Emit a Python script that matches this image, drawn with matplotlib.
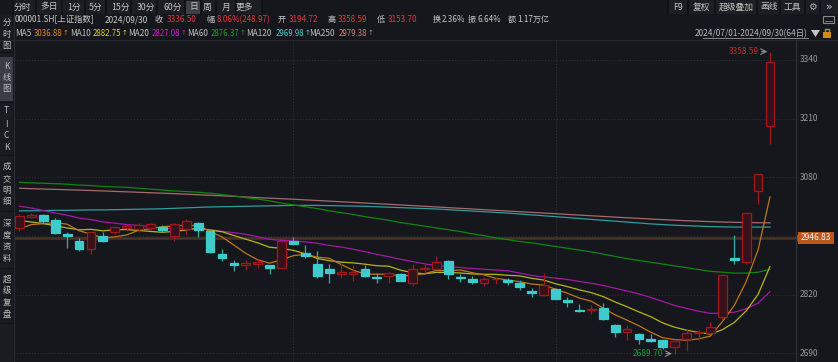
import matplotlib
matplotlib.use('Agg')
import matplotlib.pyplot as plt
from matplotlib.patches import Rectangle, Polygon
import matplotlib.transforms as mtransforms
import pandas as pd

plt.rcParams['font.family'] = ['Noto Sans CJK SC', 'DejaVu Sans']

# ---------------- data ----------------
dates = ['07-01','07-02','07-03','07-04','07-05','07-08','07-09','07-10','07-11','07-12',
         '07-15','07-16','07-17','07-18','07-19','07-22','07-23','07-24','07-25','07-26',
         '07-29','07-30','07-31','08-01','08-02','08-05','08-06','08-07','08-08','08-09',
         '08-12','08-13','08-14','08-15','08-16','08-19','08-20','08-21','08-22','08-23',
         '08-26','08-27','08-28','08-29','08-30','09-02','09-03','09-04','09-05','09-06',
         '09-09','09-10','09-11','09-12','09-13','09-18','09-19','09-20','09-23','09-24',
         '09-25','09-26','09-27','09-30']
opens = [2967.0,2993.0,2996.0,2985.0,2954.0,2940.0,2921.0,2950.0,2958.0,2967.0,
         2966.0,2967.0,2971.0,2951.0,2966.0,2978.0,2961.0,2910.0,2891.0,2887.0,
         2888.0,2885.0,2879.0,2940.0,2912.0,2889.0,2878.0,2865.0,2865.0,2878.0,
         2859.5,2861.0,2866.0,2845.0,2876.0,2878.0,2895.0,2860.0,2856.0,2846.0,
         2854.0,2853.0,2845.0,2829.0,2819.0,2832.0,2809.0,2786.0,2786.0,2790.0,
         2754.0,2737.0,2733.0,2721.0,2719.0,2704.0,2722.0,2735.0,2735.0,2770.75,
         2901.42,2893.0,3049.0,3194.72]
highs = [2998.0,3001.0,2999.0,2991.0,2958.0,2945.0,2960.0,2958.0,2972.0,2977.0,
         2979.0,2980.0,2975.0,2978.0,2987.0,2981.0,2964.0,2921.0,2897.0,2898.0,
         2900.0,2887.0,2940.0,2948.0,2930.0,2917.0,2889.0,2890.0,2885.0,2885.0,
         2869.0,2870.0,2869.0,2889.0,2889.0,2905.0,2897.0,2866.0,2861.0,2860.0,
         2860.0,2857.0,2852.0,2834.0,2869.0,2834.0,2815.0,2799.0,2797.0,2802.0,
         2756.0,2752.0,2735.0,2733.0,2720.0,2723.0,2745.0,2741.0,2760.0,2865.0,
         2952.46,3003.0,3087.8,3358.59]
lows = [2962.0,2990.0,2979.0,2955.0,2924.0,2918.0,2910.0,2936.0,2955.0,2962.0,
        2960.0,2963.0,2958.0,2940.0,2955.0,2947.0,2913.0,2895.0,2872.0,2874.0,
        2879.0,2866.0,2877.0,2930.0,2902.0,2858.0,2845.0,2858.0,2851.0,2860.0,
        2847.0,2845.0,2850.0,2840.0,2870.0,2876.0,2854.0,2849.0,2843.0,2840.0,
        2843.0,2841.0,2830.0,2815.0,2817.0,2810.0,2793.0,2781.0,2778.0,2764.0,
        2727.0,2719.0,2710.0,2715.0,2701.0,2689.70,2696.0,2719.0,2734.0,2764.0,
        2889.0,2889.0,3020.0,3153.70]
closes = [2994.73,2997.01,2982.38,2957.57,2949.93,2922.45,2959.37,2939.36,2970.39,2971.30,
          2974.01,2976.30,2962.85,2977.13,2982.31,2964.22,2915.37,2901.95,2886.43,2890.90,
          2891.85,2879.30,2938.75,2932.39,2905.34,2860.70,2867.28,2869.90,2869.83,2862.19,
          2858.20,2867.95,2850.65,2877.36,2879.43,2893.67,2866.66,2856.58,2848.77,2854.37,
          2855.52,2848.53,2837.43,2823.11,2842.21,2811.04,2802.98,2784.28,2788.22,2765.81,
          2736.49,2744.19,2721.80,2717.12,2704.09,2717.28,2736.02,2736.81,2748.92,2863.13,
          2896.31,3000.95,3087.53,3336.50]
# closes of the 19 sessions before 07-01 (needed for MA5/10/20)
prev_closes = [3078.49,3091.20,3065.40,3048.79,3051.28,3028.05,3037.47,3028.92,3032.63,3015.89,
               3030.25,3018.05,3005.44,2998.14,2963.10,2950.00,2972.53,2945.85,2967.40]
# long moving averages
ma60 = [3069,3068,3067,3066,3065,3063,3062,3060,3059,3058,3056,3054,3052,3050,3048.5,3047,
        3045,3042,3039,3035,3032,3028,3023,3019,3015,3011,3006,3002,2998,2993,2989,2985,
        2980,2976,2972,2968,2964,2960,2955,2951,2946,2942,2938,2935,2931,2927,2923,2919,
        2915,2910,2905,2900,2896,2892,2888,2884,2880,2876,2872,2870,2868,2868,2870,2876.37]
ma120 = [3006,3006,3006.5,3007,3007,3007.5,3008,3008,3008.5,3009,3009.5,3010,3010.5,3011.5,
         3012.5,3013.5,3014.5,3015,3015.5,3016,3016.5,3017,3017.5,3018,3018,3018,3017.5,3017,
         3016.5,3016,3015,3014,3013,3012,3011,3010,3008.5,3007,3005.5,3004,3002.5,3001,2999,
         2997,2995,2993,2991,2989,2987,2985,2983,2981,2979,2977,2975.5,2974,2973,2972,2971,
         2970.5,2970,2970,2970,2969.98]
ma250 = [3056,3055,3054.2,3053.4,3052.6,3051.8,3051,3050,3049,3048,3047,3046,3045,3044,
         3042.8,3041.6,3040.4,3039.2,3038,3036.6,3035.2,3034,3032.8,3031.6,3030.2,3028.8,
         3027.4,3026,3024.6,3023.2,3021.8,3020.4,3019,3017.5,3016,3014.5,3013,3011.5,3010,
         3008.5,3007,3005.5,3004,3002.5,3001,2999.5,2998,2996.5,2995,2993.5,2992,2990.6,
         2989.2,2987.8,2986.5,2985.2,2984,2983,2982,2981.2,2980.5,2980,2979.6,2979.38]
y_ticks = [3340, 3210, 3080, 2950, 2820, 2690]
y_tick_labels = ['3340', '3210', '3080', '', '2820', '2690']
cursor_price = 2946.83
month_starts = ['08-01', '09-02']

# ---------------- styling ----------------
BG = '#15171c'
UP_EDGE = '#a0181c'
UP_FACE = '#35111a'
DN = '#3ecbcc'
W, H = 838, 362

fig = plt.figure(figsize=(W / 100, H / 100), dpi=100, facecolor=BG)

# main chart area in pixels: x 14..795, y 40..362
ax = fig.add_axes([14 / W, 0, (795 - 14) / W, (362 - 40) / H])
ax.set_facecolor(BG)
n = len(closes)
xs = list(range(n))
ax.set_xlim(-0.46, 65.10)
ax.set_ylim(3340 - 302 / 0.4515, 3340 + 20 / 0.4515)
for s in ax.spines.values():
    s.set_visible(False)
ax.set_xticks([])
ax.set_yticks([])

# grid
for v in y_ticks:
    ax.axhline(v, color='#30333a', lw=0.7, ls=(0, (1, 2)), zorder=0)
for d in month_starts:
    ax.axvline(dates.index(d), color='#30333a', lw=0.7, ls=(0, (1, 2)), zorder=0)

# cursor line
ax.axhline(cursor_price, color='#4a3324', lw=1.8, zorder=1)

# moving averages
s_all = pd.Series(prev_closes + closes)
k = len(prev_closes)
ma5 = s_all.rolling(5).mean().iloc[k:].to_numpy()
ma10 = s_all.rolling(10).mean().iloc[k:].to_numpy()
ma20 = s_all.rolling(20).mean().iloc[k:].to_numpy()
lines = [(ma250, '#a86a6a'), (ma120, '#2f9c9e'), (ma60, '#118511'),
         (ma20, '#a617a6'), (ma10, '#b5b51a'), (ma5, '#c0761a')]
for arr, c in lines:
    ax.plot(xs, arr, color=c, lw=0.9, zorder=2)

# candles
bw = 0.74
for i in xs:
    o, h, l, c = opens[i], highs[i], lows[i], closes[i]
    up = c >= o
    col = UP_EDGE if up else DN
    ax.vlines(i, l, h, color=col if up else '#36a9aa', lw=0.9, zorder=3)
    lo, hi = min(o, c), max(o, c)
    ax.add_patch(Rectangle((i - bw / 2, lo), bw, max(hi - lo, 0.6),
                           facecolor=UP_FACE if up else DN, edgecolor=col,
                           lw=0.9, zorder=4))

# ---------------- overlay (pixel coords) ----------------
ov = fig.add_axes([0, 0, 1, 1], zorder=10)
ov.set_xlim(0, W)
ov.set_ylim(H, 0)
ov.axis('off')
ov.patch.set_alpha(0)

def T(x, y, s, c='#bdbdbd', fs=6, ha='left', **kw):
    return ov.text(x, y, s, color=c, fontsize=fs, ha=ha, va='center', **kw)

# header backgrounds and separators
ov.add_patch(Rectangle((13, 0), 250, 14, facecolor='#1c1e23', edgecolor='none'))
tabs = [('分时', 22.5), ('多日', 49.5), ('1分', 73.5), ('5分', 95.5),
        ('15分', 120), ('30分', 146), ('60分', 172.5), ('日', 193.5),
        ('周', 207.5), ('月', 226), ('更多', 244.5)]
edges = [13, 36, 62, 85, 106, 131, 157, 185, 201, 216, 236, 262]
for e in edges:
    ov.plot([e, e], [0, 14], color='#0f1014', lw=1.2)
ov.add_patch(Rectangle((186, 0.5), 14, 13.5, facecolor='#3c3f47', edgecolor='none'))
for s, x in tabs:
    T(x, 7, s, c='#c4c4c4', fs=6.3, ha='center')

ov.add_patch(Rectangle((668, 0), 170, 14, facecolor='#1c1e23', edgecolor='none'))
for e in [668, 688, 715, 757, 780, 805, 820]:
    ov.plot([e, e], [0, 14], color='#0f1014', lw=1.2)
for s, x in [('F9', 678), ('复权', 701.5), ('超级叠加', 736), ('画线', 768.5), ('工具', 792.5)]:
    T(x, 7, s, c='#c4c4c4', fs=6.3, ha='center')
T(812.5, 7, '⚙', c='#b0b0b0', fs=7, ha='center', family='DejaVu Sans')
T(829, 6.5, '»', c='#c4c4c4', fs=8, ha='center', family='DejaVu Sans')

# row 2 quote line
RED = '#e03a3c'
GR = '#c8c8c8'
T(15, 19.5, '000001.SH[上证指数]', c=GR)
T(105, 19.5, '2024/09/30', c=GR)
for lab, x, val, vx, c in [('收', 154, '3336.50', 167, RED), ('幅', 206, '8.06%(248.97)', 217, RED),
                           ('开', 278, '3194.72', 289, RED), ('高', 327, '3358.59', 338, RED),
                           ('低', 377, '3153.70', 388, RED), ('换', 433, '2.36%', 442, GR),
                           ('振', 468, '6.64%', 477, GR), ('额', 508, '1.17万亿', 517, GR)]:
    T(x, 19.5, lab, c=GR, fs=5.8)
    T(vx, 19.5, val, c=c, fs=5.8)
ov.add_patch(Rectangle((823, 15.5), 11, 7, facecolor='none', edgecolor='#8a8a8a', lw=0.8))
ov.plot([825, 832], [21, 21], color='#8a8a8a', lw=0.6)

# row 3 MA legend
ma_last = [ma5[-1], ma10[-1], ma20[-1], ma60[-1], ma120[-1], ma250[-1]]
leg = [('MA5', 15, 34, '#da8c1c'), ('MA10', 70, 93, '#d6d618'), ('MA20', 128, 152, '#cf1bcf'),
       ('MA60', 187, 211, '#1fa01f'), ('MA120', 246, 276, '#4ccfd0'),
       ('MA250', 309, 339, '#d67d7d')]
for (lab, x, vx, c), v in zip(leg, ma_last):
    T(x, 33, lab, c='#c0c0c0', fs=5.9)
    T(vx, 33, f'{v:.2f}', c=c, fs=5.7)
    T(vx + 28.4, 32.6, '↑', c=c, fs=5.0, family='DejaVu Sans')

# date range
T(808, 33.5, '2024/07/01-2024/09/30(64日)', c='#b8b8b8', ha='right')
ov.plot([703, 808], [38.3, 38.3], color='#9a9a9a', lw=0.6)
ov.add_patch(Polygon([[811, 30], [820, 30], [815.5, 37]], closed=True, facecolor='#c4c4c4'))
ov.add_patch(Rectangle((823, 32), 8, 6, facecolor='#d38a12', edgecolor='none'))
ov.plot([824.5, 824.5, 829, 829], [32, 29, 29, 30.5], color='#d38a12', lw=1)
ov.plot([0, 838], [39.5, 39.5], color='#25272d', lw=0.8)

# left panel
ov.add_patch(Rectangle((0, 14), 13, 348, facecolor='#1a1c21', edgecolor='none'))
ov.plot([13.5, 13.5], [14, 362], color='#2a2d33', lw=0.8)
ov.add_patch(Rectangle((0, 57), 13, 44, facecolor='#3a3d44', edgecolor='none'))
groups = [(['分', '时', '图'], [23.5, 34.5, 45.5]),
          (['K', '线', '图'], [66.7, 77.5, 89]),
          (['T', 'I', 'C', 'K'], [110.7, 124.5, 135.7, 147.3]),
          (['成', '交', '明', '细'], [166.7, 178.3, 190, 201.7]),
          (['深', '度', '资', '料'], [223.3, 235, 246.5, 258.3]),
          (['超', '级', '复', '盘'], [279.3, 290.7, 302.7, 314.3])]
for chars, ys in groups:
    for ch, y in zip(chars, ys):
        T(6.5, y, ch, c='#bcbcbc', ha='center', fs=6)
for y in [52, 101.5, 155, 211, 268, 323]:
    ov.plot([0, 13], [y, y], color='#111216', lw=1)

# right axis
ov.plot([795.5, 795.5], [40, 362], color='#2c2f35', lw=1)
yt = mtransforms.blended_transform_factory(fig.transFigure, ax.transData)
for v, lab in zip(y_ticks, y_tick_labels):
    if lab:
        fig.text(800 / W, v, lab, transform=yt, color='#9a9a9a', fontsize=6, va='center',
                 ha='left', zorder=11)
ov.add_patch(Rectangle((798, 232), 36, 12, facecolor='#b9581c', edgecolor='none'))
ov.add_patch(Polygon([[795, 238], [798, 234.5], [798, 241.5]], closed=True, facecolor='#b9581c'))
fig.text(816 / W, cursor_price, f'{cursor_price:.2f}', transform=yt, color='#f2f2f2',
         fontsize=6, va='center', ha='center', zorder=12)

# high / low markers on main axes
i_hi = highs.index(max(highs))
i_lo = lows.index(min(lows))
ax.annotate('', xy=(i_hi, max(highs)), xytext=(i_hi - 0.95, max(highs)),
            arrowprops=dict(arrowstyle='->', color='#9a9a9a', lw=0.7), zorder=6)
ax.text(i_hi - 0.95, max(highs), f'{max(highs):.2f}', color='#c42a2e', fontsize=6,
        ha='right', va='center', zorder=6)
ax.annotate('', xy=(i_lo, min(lows)), xytext=(i_lo - 0.95, min(lows)),
            arrowprops=dict(arrowstyle='->', color='#9a9a9a', lw=0.7), zorder=6)
ax.text(i_lo - 0.95, min(lows), f'{min(lows):.2f}', color='#1f9a3a', fontsize=6,
        ha='right', va='center', zorder=6)

fig.savefig('out.png', dpi=100, facecolor=BG)
